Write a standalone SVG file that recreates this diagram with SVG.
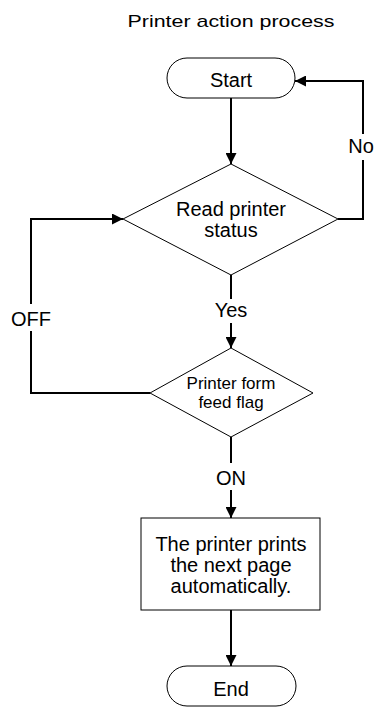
<svg xmlns="http://www.w3.org/2000/svg" width="375" height="709" viewBox="0 0 375 709">
  <style>
    .shape { fill: #ffffff; stroke: #000000; stroke-width: 1; }
    .link { fill: none; stroke: #000000; stroke-width: 2; }
    text { font-family: "Liberation Sans", Arial, sans-serif; fill: #000000; text-anchor: middle; }
    .t20 { font-size: 20px; }
    .t17 { font-size: 17px; }
  </style>
  <defs>
    <marker id="arrow" markerUnits="userSpaceOnUse" markerWidth="12" markerHeight="11" refX="11" refY="5.5" orient="auto">
      <path d="M0,0 L11,5.5 L0,11 Z" fill="#000000"/>
    </marker>
  </defs>
  <rect width="375" height="709" fill="#ffffff"/>

  <text id="title" x="231" y="27" font-size="17" textLength="207" lengthAdjust="spacingAndGlyphs">Printer action process</text>

  <g id="connectors">
    <path class="link" d="M231,98 V164" marker-end="url(#arrow)"/>
    <path class="link" d="M338,219 H363 V160"/>
    <path class="link" d="M363,134 V81 H295" marker-end="url(#arrow)"/>
    <path class="link" d="M231,275 V299"/>
    <path class="link" d="M231,323 V348" marker-end="url(#arrow)"/>
    <path class="link" d="M150,393 H31 V331"/>
    <path class="link" d="M31,304 V219 H123" marker-end="url(#arrow)"/>
    <path class="link" d="M231,437 V463"/>
    <path class="link" d="M231,490 V518" marker-end="url(#arrow)"/>
    <path class="link" d="M231,610 V666" marker-end="url(#arrow)"/>
    <text class="t20" x="361" y="153">No</text>
    <text class="t20" x="231" y="317">Yes</text>
    <text class="t20" x="31" y="326">OFF</text>
    <text class="t20" x="231" y="485">ON</text>
  </g>

  <g id="start">
    <rect class="shape" x="167" y="58" width="128" height="40" rx="20" ry="20"/>
    <text class="t20" x="231" y="87">Start</text>
  </g>

  <g id="read-status">
    <polygon class="shape" points="231,164 338,219 231,275 123,219"/>
    <text class="t20" x="231" y="216">Read printer</text>
    <text class="t20" x="231" y="237">status</text>
  </g>

  <g id="form-feed-flag">
    <polygon class="shape" points="231,348 313,393 231,437 150,393"/>
    <text class="t17" x="231" y="389">Printer form</text>
    <text class="t17" x="231" y="408">feed flag</text>
  </g>

  <g id="print-next-page">
    <rect class="shape" x="141" y="518" width="179" height="92"/>
    <text class="t20" x="231" y="551">The printer prints</text>
    <text class="t20" x="231" y="572">the next page</text>
    <text class="t20" x="231" y="593">automatically.</text>
  </g>

  <g id="end">
    <rect class="shape" x="167" y="666" width="129" height="40" rx="20" ry="20"/>
    <text class="t20" x="231" y="696">End</text>
  </g>
</svg>
